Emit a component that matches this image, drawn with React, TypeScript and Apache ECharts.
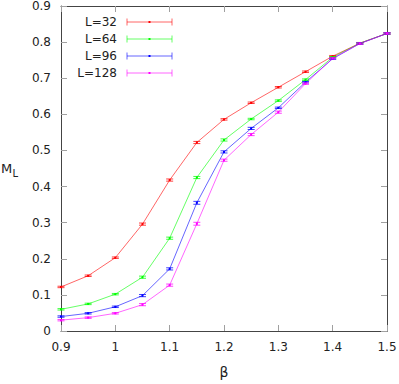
import React, { useEffect, useRef } from "react";
import * as echarts from "echarts";

const betas = [0.9, 0.95, 1.0, 1.05, 1.1, 1.15, 1.2, 1.25, 1.3, 1.35, 1.4, 1.45, 1.5];
const seriesNames = ["L=32", "L=64", "L=96", "L=128"];
const seriesColors = ["#ff0000", "#00ff00", "#0000ff", "#ff00ff"];
const m32 = [0.122, 0.153, 0.203, 0.296, 0.418, 0.522, 0.586, 0.632, 0.675, 0.718, 0.761, 0.797, 0.824];
const m64 = [0.060, 0.075, 0.102, 0.149, 0.257, 0.425, 0.529, 0.587, 0.638, 0.696, 0.758, 0.797, 0.824];
const m96 = [0.040, 0.049, 0.067, 0.098, 0.172, 0.355, 0.496, 0.561, 0.618, 0.689, 0.754, 0.796, 0.824];
const m128 = [0.030, 0.037, 0.049, 0.073, 0.127, 0.297, 0.473, 0.544, 0.606, 0.685, 0.755, 0.796, 0.824];
const e32 = [0.002, 0.002, 0.002, 0.003, 0.003, 0.003, 0.002, 0.002, 0.002, 0.002, 0.002, 0.002, 0.002];
const e64 = [0.002, 0.002, 0.002, 0.003, 0.003, 0.003, 0.003, 0.002, 0.002, 0.002, 0.002, 0.002, 0.002];
const e96 = [0.002, 0.002, 0.002, 0.003, 0.003, 0.004, 0.003, 0.003, 0.002, 0.002, 0.002, 0.002, 0.002];
const e128 = [0.002, 0.002, 0.002, 0.003, 0.003, 0.004, 0.003, 0.003, 0.003, 0.002, 0.002, 0.002, 0.002];
const xTicks = { min: 0.9, max: 1.5, step: 0.1 };
const yTicks = { min: 0, max: 0.9, step: 0.1 };

const allValues = [m32, m64, m96, m128];
const allErrors = [e32, e64, e96, e128];
const FONT = "DejaVu Sans";

export default function App() {
  const ref = useRef<HTMLDivElement>(null);
  useEffect(() => {
    document.body.style.margin = "0";
    const chart = echarts.init(ref.current!, null, { renderer: "svg" });
    const frameColor = "#444";
    const tickColor = "#a0a0a0";
    const baseAxis = {
      type: "value" as const,
      axisLine: { show: true, onZero: false, lineStyle: { color: frameColor, width: 1 } },
      axisTick: { show: true, inside: true, length: 6, lineStyle: { color: tickColor } },
      splitLine: { show: false },
    };
    const lineSeries = allValues.map((vals, i) => ({
      type: "line",
      name: seriesNames[i],
      data: betas.map((b, k) => [b, vals[k]]),
      showSymbol: false,
      silent: true,
      lineStyle: { color: seriesColors[i], width: 1, opacity: 0.6 },
      z: 2,
    }));
    const errSeries = allValues.map((vals, i) => ({
      type: "custom",
      name: seriesNames[i] + " err",
      data: betas.map((b, k) => [b, vals[k], allErrors[i][k]]),
      encode: { x: 0, y: 1 },
      silent: true,
      z: 3,
      renderItem: (params: any, api: any) => {
        const x = api.value(0);
        const y = api.value(1);
        const e = api.value(2);
        const lo = api.coord([x, y - e]);
        const hi = api.coord([x, y + e]);
        const c = api.coord([x, y]);
        const w = 3.5;
        const st = { stroke: seriesColors[i], lineWidth: 1, opacity: 0.75 };
        return {
          type: "group",
          children: [
            { type: "line", shape: { x1: lo[0], y1: lo[1], x2: hi[0], y2: hi[1] }, style: st },
            { type: "line", shape: { x1: lo[0] - w, y1: lo[1], x2: lo[0] + w, y2: lo[1] }, style: st },
            { type: "line", shape: { x1: hi[0] - w, y1: hi[1], x2: hi[0] + w, y2: hi[1] }, style: st },
            { type: "rect", shape: { x: c[0] - 1, y: c[1] - 1, width: 2, height: 2 }, style: { fill: seriesColors[i] } },
          ],
        };
      },
    }));
    const legendGraphics: any[] = [];
    seriesNames.forEach((nm, i) => {
      const y = 22 + 17 * i;
      const col = seriesColors[i];
      legendGraphics.push(
        { type: "text", x: 117, y, style: { text: nm, fill: "#222", font: `12px '${FONT}'`, align: "right", verticalAlign: "middle" } },
        { type: "line", shape: { x1: 127, y1: y, x2: 172, y2: y }, style: { stroke: col, lineWidth: 1, opacity: 0.6 } },
        { type: "line", shape: { x1: 127, y1: y - 3.5, x2: 127, y2: y + 3.5 }, style: { stroke: col, lineWidth: 1, opacity: 0.6 } },
        { type: "line", shape: { x1: 172, y1: y - 3.5, x2: 172, y2: y + 3.5 }, style: { stroke: col, lineWidth: 1, opacity: 0.6 } },
        { type: "rect", shape: { x: 148.5, y: y - 1, width: 2, height: 2 }, style: { fill: col } }
      );
    });
    chart.setOption({
      animation: false,
      grid: { left: 61, right: 12, top: 6, bottom: 53, outerBoundsMode: "none" },
      xAxis: [
        {
          ...baseAxis,
          position: "bottom",
          min: xTicks.min,
          max: xTicks.max,
          interval: xTicks.step,
          axisLabel: { color: "#222", fontSize: 12, fontFamily: FONT, margin: 10 },
          name: "β",
          nameLocation: "middle",
          nameGap: 34,
          nameTextStyle: { color: "#222", fontSize: 14, fontFamily: FONT },
        },
        {
          ...baseAxis,
          position: "top",
          min: xTicks.min,
          max: xTicks.max,
          interval: xTicks.step,
          axisLabel: { show: false },
        },
      ],
      yAxis: [
        {
          ...baseAxis,
          position: "left",
          min: yTicks.min,
          max: yTicks.max,
          interval: yTicks.step,
          axisLabel: { color: "#222", fontSize: 12, fontFamily: FONT, margin: 10 },
        },
        {
          ...baseAxis,
          position: "right",
          min: yTicks.min,
          max: yTicks.max,
          interval: yTicks.step,
          axisLabel: { show: false },
        },
      ],
      graphic: [
        { type: "text", x: 1, y: 168, style: { text: "M", fill: "#222", font: `13px '${FONT}'`, verticalAlign: "middle" } },
        { type: "text", x: 12.5, y: 173, style: { text: "L", fill: "#222", font: `10px '${FONT}'`, verticalAlign: "middle" } },
        ...legendGraphics,
      ],
      series: [...lineSeries, ...errSeries],
    });
    return () => chart.dispose();
  }, []);
  return <div ref={ref} style={{ width: 399, height: 384 }} />;
}
